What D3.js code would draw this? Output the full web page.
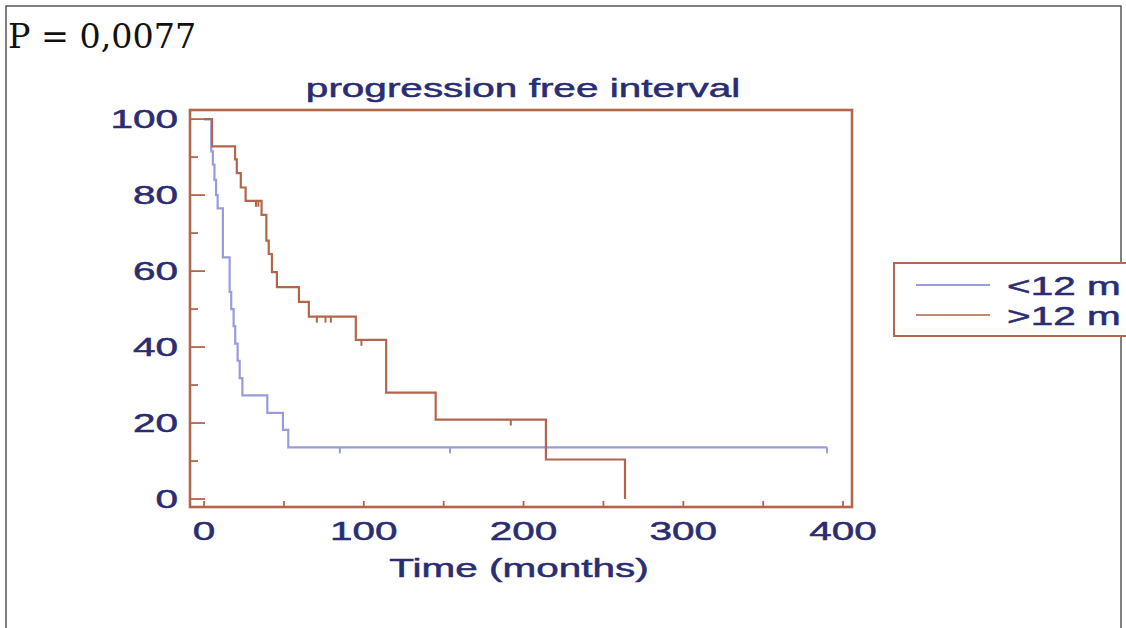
<!DOCTYPE html>
<html>
<head>
<meta charset="utf-8">
<script src="https://cdn.jsdelivr.net/npm/d3@7"></script>
<style>
  body { margin: 0; background: #fff; }
  text { font-family: "Liberation Sans", Arial, sans-serif; }
</style>
</head>
<body>
<div id="chart"></div>
<script>
// Kaplan-Meier steps: [months, % free of progression]
const shortGroup = [[0,100],[4.5,91.5],[5.5,88],[6.5,84],[7.5,80],[8.5,76.5],[11.8,63.6],[16,54.5],[17,50],[18.5,45.5],[19.5,40.9],[21,36.4],[22.3,31.8],[24,27.3],[39.6,22.7],[49.4,18.2],[52.7,13.6],[390,13.6]];
const longGroup = [[0,100],[5,92.8],[19.4,89.4],[20.5,85.8],[23,82],[26,78.5],[36,74.8],[39,68],[40.5,64.5],[42.5,59.7],[45.6,55.8],[59.4,51.9],[65.6,48],[95,41.9],[114,28],[145,20.9],[214,10.4],[263.5,0]];
const shortCensored = [[85,13.6],[154,13.6],[390,13.6]];
const longCensored = [[32.5,78.5],[34,78.5],[70.6,48],[76,48],[79.4,48],[98.5,41.9],[192,20.9]];

const yTicks = [0, 20, 40, 60, 80, 100];
const yMinor = [10, 30, 50, 70, 90];
const xTicks = [0, 50, 100, 150, 200, 250, 300, 350, 400];
const xLabels = [0, 100, 200, 300, 400];
const legendLabels = ["<12 m", ">12 m"];

const W = 1126, H = 628;
const brown = "#b4664c", blue = "#9a9ade", navy = "#2b2d73";
const stretch = 1.62; // the picture's lettering is wide

const svg = d3.select("#chart").append("svg")
    .attr("width", W).attr("height", H);

// outer page border
svg.append("rect")
    .attr("x", 6).attr("y", 6).attr("width", 1115).attr("height", 640)
    .attr("fill", "none").attr("stroke", "#555").attr("stroke-width", 1.5);

svg.append("text")
    .attr("transform", "translate(8,48) scale(0.98,1)")
    .style("font-family", "'DejaVu Serif', serif")
    .style("font-size", "34px").attr("fill", "#111")
    .text("P = 0,0077");

const x = d3.scaleLinear().domain([-8.8, 405.6]).range([190, 852]),
      y = d3.scaleLinear().domain([-2.1, 102.4]).range([507, 110]);

function wideText(g, px, py, anchor, str, size) {
    g.append("text")
        .attr("transform", `translate(${px},${py}) scale(${stretch},1)`)
        .attr("text-anchor", anchor)
        .style("font-size", size + "px")
        .attr("fill", navy)
        .attr("stroke", navy).attr("stroke-width", 0.5)
        .text(str);
}

// frame
svg.append("rect")
    .attr("x", 190).attr("y", 110).attr("width", 662).attr("height", 397)
    .attr("fill", "none").attr("stroke", brown).attr("stroke-width", 2.6);

// y ticks pointing inwards
svg.selectAll(".ymaj").data(yTicks).enter().append("line")
    .attr("x1", 190).attr("x2", 205)
    .attr("y1", d => y(d)).attr("y2", d => y(d))
    .attr("stroke", brown).attr("stroke-width", 1.8);
svg.selectAll(".ymin").data(yMinor).enter().append("line")
    .attr("x1", 190).attr("x2", 198)
    .attr("y1", d => y(d)).attr("y2", d => y(d))
    .attr("stroke", brown).attr("stroke-width", 1.8);
yTicks.forEach(d => wideText(svg, 178, y(d) + 9, "end", d, 25));

// x ticks pointing up
svg.selectAll(".xt").data(xTicks).enter().append("line")
    .attr("x1", d => x(d)).attr("x2", d => x(d))
    .attr("y1", 507).attr("y2", 501)
    .attr("stroke", brown).attr("stroke-width", 1.8);
xLabels.forEach(d => wideText(svg, x(d), 540, "middle", d, 25));

wideText(svg, 519, 577, "middle", "Time (months)", 25);
wideText(svg, 523, 97, "middle", "progression free interval", 25);

const line = d3.line()
    .x(d => x(d[0])).y(d => y(d[1]))
    .curve(d3.curveStepAfter);

svg.append("path").datum(shortGroup)
    .attr("d", line).attr("fill", "none")
    .attr("stroke", blue).attr("stroke-width", 2.2);
svg.append("path").datum(longGroup)
    .attr("d", line).attr("fill", "none")
    .attr("stroke", brown).attr("stroke-width", 2.2);

svg.selectAll(".cs").data(shortCensored).enter().append("line")
    .attr("x1", d => x(d[0])).attr("x2", d => x(d[0]))
    .attr("y1", d => y(d[1])).attr("y2", d => y(d[1]) + 6)
    .attr("stroke", blue).attr("stroke-width", 2);
svg.selectAll(".cl").data(longCensored).enter().append("line")
    .attr("x1", d => x(d[0])).attr("x2", d => x(d[0]))
    .attr("y1", d => y(d[1])).attr("y2", d => y(d[1]) + 6)
    .attr("stroke", brown).attr("stroke-width", 2);

// legend, cut off at the right edge
const legend = svg.append("g");
legend.append("rect")
    .attr("x", 894).attr("y", 263).attr("width", 260).attr("height", 73)
    .attr("fill", "#fff").attr("stroke", brown).attr("stroke-width", 2);
[blue, "#c08a74"].forEach((c, i) => {
    legend.append("line")
        .attr("x1", 916).attr("x2", 990)
        .attr("y1", 285 + i * 30).attr("y2", 285 + i * 30)
        .attr("stroke", c).attr("stroke-width", 2);
    wideText(legend, 1007, 295 + i * 30, "start", legendLabels[i], 25);
});
</script>
</body>
</html>
